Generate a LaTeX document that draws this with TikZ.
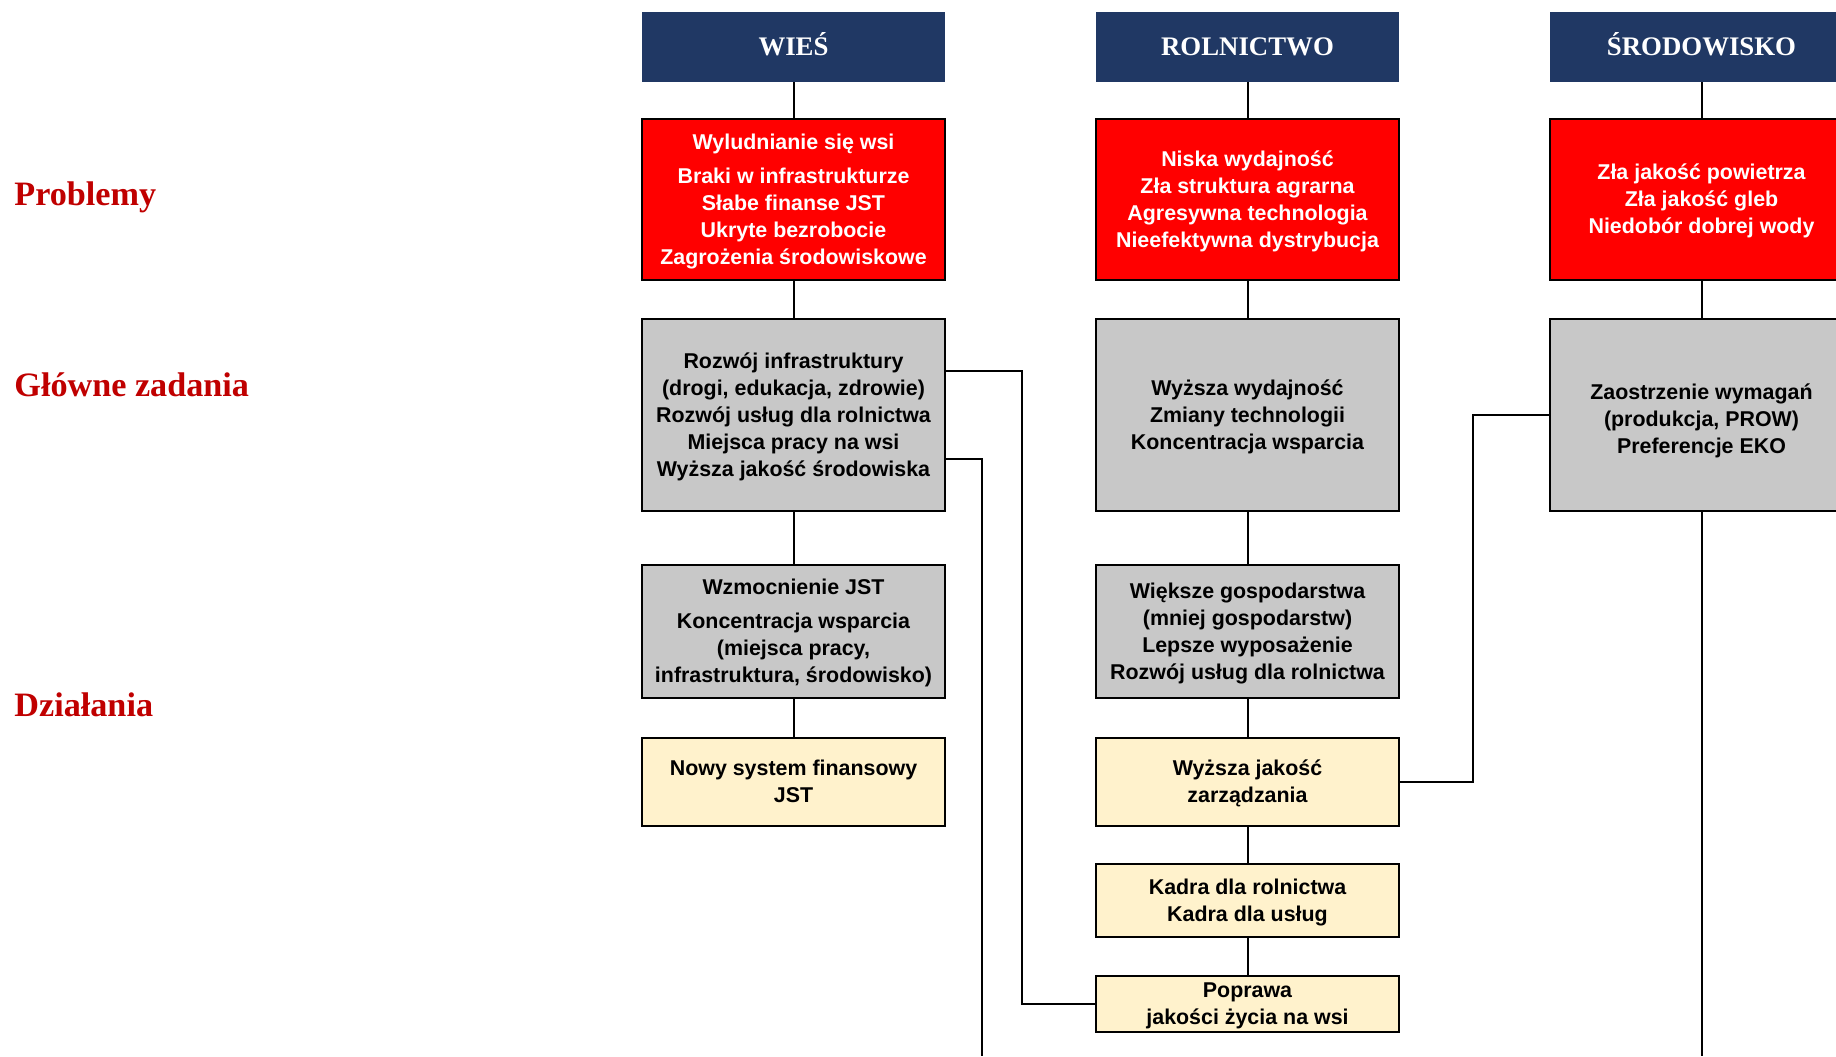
\documentclass[tikz,border=0pt]{standalone}
\usepackage{fontspec}
\setmainfont{Liberation Sans}
\newfontfamily\serifb{Liberation Serif}
\definecolor{navy}{RGB}{32,56,100}
\definecolor{redbox}{RGB}{255,0,0}
\definecolor{graybox}{RGB}{200,200,200}
\definecolor{yelbox}{RGB}{255,242,204}
\definecolor{labred}{RGB}{192,0,0}
\newcommand{\boxfont}{\fontsize{10.7}{13.5}\selectfont\bfseries}
\newcommand{\bt}[2][0.85pt]{\raisebox{-#1}[\height][\depth]{\begin{tabular}{@{}c@{}}#2\end{tabular}}}
\begin{document}
\begin{tikzpicture}[x=0.5pt,y=-0.5pt,
  hdr/.style={fill=navy, minimum width=151.5pt, minimum height=35pt, inner sep=0pt,
    text=white, font=\serifb\bfseries\fontsize{13.4}{16}\selectfont, text height=8.9pt, text depth=0pt},
  box/.style={draw=black, line width=1.15pt, minimum width=151.5pt, inner sep=0pt,
    font=\boxfont},
  redb/.style={box, fill=redbox, text=white, minimum height=80.5pt},
  grayb/.style={box, fill=graybox, text=black},
  yelb/.style={box, fill=yelbox, text=black},
  conn/.style={line width=1pt, draw=black},
  rowlab/.style={font=\serifb\bfseries\fontsize{17.1}{20}\selectfont, text=labred, anchor=base west, inner sep=0pt}
]
\clip (0,0) rectangle (1836,1056);
\fill[white] (0,0) rectangle (1836,1056);

% row labels
\node[rowlab] (lP) at (14,205) {Problemy};
\node[rowlab] (lG) at (14,396) {Główne zadania};
\node[rowlab] (lD) at (14,716) {Działania};

% WIEŚ column
\node[hdr] (hW) at (793.5,47) {WIEŚ};
\node[redb] (pW) at (793.5,199.5) {\bt{Wyludnianie się wsi\\[3.5pt]Braki w infrastrukturze\\Słabe finanse JST\\Ukryte bezrobocie\\Zagrożenia środowiskowe}};
\node[grayb, minimum height=96pt] (gW) at (793.5,415) {\bt{Rozwój infrastruktury\\(drogi, edukacja, zdrowie)\\Rozwój usług dla rolnictwa\\Miejsca pracy na wsi\\Wyższa jakość środowiska}};
\node[grayb, minimum height=66.5pt] (dW) at (793.5,631.5) {\bt{Wzmocnienie JST\\[3.5pt]Koncentracja wsparcia\\(miejsca pracy,\\infrastruktura, środowisko)}};
\node[yelb, minimum height=44pt] (yW) at (793.5,781.8) {\bt{Nowy system finansowy\\JST}};

% ROLNICTWO column
\node[hdr] (hR) at (1247.5,47) {ROLNICTWO};
\node[redb] (pR) at (1247.5,199.5) {\bt{Niska wydajność\\Zła struktura agrarna\\Agresywna technologia\\Nieefektywna dystrybucja}};
\node[grayb, minimum height=96pt] (gR) at (1247.5,415) {\bt{Wyższa wydajność\\Zmiany technologii\\Koncentracja wsparcia}};
\node[grayb, minimum height=66.5pt] (dR) at (1247.5,631.5) {\bt{Większe gospodarstwa\\(mniej gospodarstw)\\Lepsze wyposażenie\\Rozwój usług dla rolnictwa}};
\node[yelb, minimum height=44pt] (yR1) at (1247.5,781.8) {\bt{Wyższa jakość\\zarządzania}};
\node[yelb, minimum height=36.5pt] (yR2) at (1247.5,900.5) {\bt{Kadra dla rolnictwa\\Kadra dla usług}};
\node[yelb, minimum height=28pt] (yR3) at (1247.5,1004) {\bt{Poprawa\\jakości życia na wsi}};

% ŚRODOWISKO column
\node[hdr] (hS) at (1701.5,47) {ŚRODOWISKO};
\node[redb] (pS) at (1701.5,199.5) {\bt{Zła jakość powietrza\\Zła jakość gleb\\Niedobór dobrej wody}};
\node[grayb, minimum height=96pt] (gS) at (1701.5,415) {\bt[2.8pt]{Zaostrzenie wymagań\\(produkcja, PROW)\\Preferencje EKO}};

\coordinate (b1) at (982,1056);
\coordinate (b2) at (1701.5,1056);

% vertical connectors
\draw[conn] (hW.south) -- (pW.north);
\draw[conn] (pW.south) -- (gW.north);
\draw[conn] (gW.south) -- (dW.north);
\draw[conn] (dW.south) -- (yW.north);
\draw[conn] (hR.south) -- (pR.north);
\draw[conn] (pR.south) -- (gR.north);
\draw[conn] (gR.south) -- (dR.north);
\draw[conn] (dR.south) -- (yR1.north);
\draw[conn] (yR1.south) -- (yR2.north);
\draw[conn] (yR2.south) -- (yR3.north);
\draw[conn] (hS.south) -- (pS.north);
\draw[conn] (pS.south) -- (gS.north);
\draw[conn] (gS.south) -- (b2);

% cross connectors
\draw[conn] ([yshift=22pt]gW.east) -- ++(76,0) |- (yR3.west);
\draw[conn] ([yshift=-22pt]gW.east) -| (b1);
\draw[conn] (gS.west) -- ++(-76,0) |- (yR1.east);
\end{tikzpicture}
\end{document}
